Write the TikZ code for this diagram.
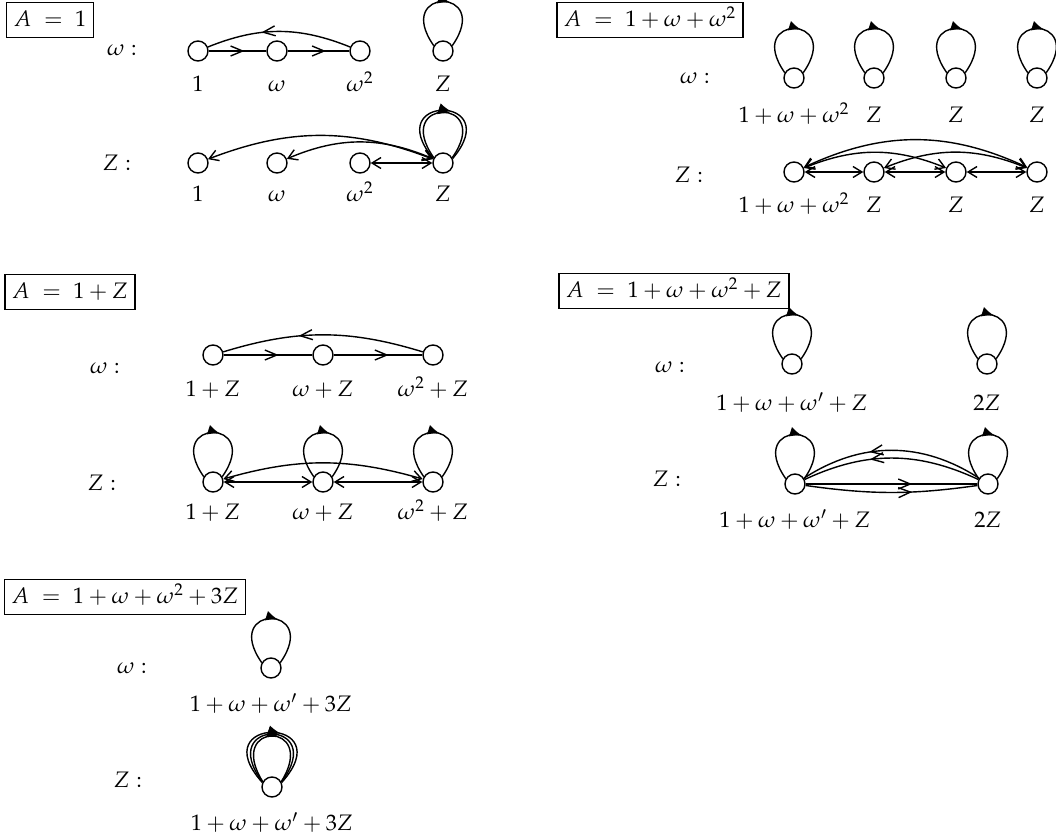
\documentclass[tikz,border=0pt]{standalone}
\usepackage{mathpazo}
\usepackage{tikz}
\usetikzlibrary{arrows.meta, decorations.markings}
\tikzstyle{vtx} = [circle, draw, minimum size=10pt, inner sep=0pt]
\tikzset{lbl/.style={yshift=-#1}}
\tikzstyle{ttl} = [draw, inner xsep=3.5pt, inner ysep=2.5pt, text height=9.5pt, text depth=3pt]
\tikzstyle{fwd} = [postaction={decorate}, decoration={markings, mark=at position 0.62 with {\arrow{Straight Barb[length=6pt,width=5pt]}}}]
\tikzstyle{loopy} = [postaction={decorate}, decoration={markings, mark=at position 0.56 with {\arrow{Latex[length=6pt,width=5pt]}}}]
\tikzstyle{every label} = [inner sep=1pt, text height=8.5pt, text depth=2.5pt]

\begin{document}
\begin{tikzpicture}[x=0.5pt, y=-0.5pt, line width=0.7pt, >={Straight Barb[length=4.5pt,width=5.5pt]}, font=\fontsize{11.2}{14}\selectfont]
    \useasboundingbox (0,0) rectangle (1056,835);

    % A = 1
    \node[ttl] (t1) at (50,20) {$A \;=\; 1$};
    \node (p1w) at (122,50) {$\omega:$};
    \node[vtx, label={[lbl=5pt]below:$1$}] (p1w1) at (198,51) {};
    \node[vtx, label={[lbl=5pt]below:$\omega$}] (p1w2) at (277,51) {};
    \node[vtx, label={[lbl=5pt]below:$\omega^2$}] (p1w3) at (360,51) {};
    \node[vtx, label={[lbl=5pt]below:$Z$}] (p1w4) at (443,51) {};
    \draw[fwd] (p1w1) -- (p1w2);
    \draw[fwd] (p1w2) -- (p1w3);
    \draw[fwd] (p1w3) to[bend right=22] (p1w1);
    \draw[loopy] (p1w4.150) .. controls +(125:36pt) and +(55:36pt) .. (p1w4.30);

    \node (p1z) at (117,163) {$Z:$};
    \node[vtx, label={[lbl=4pt]below:$1$}] (p1z1) at (198,163) {};
    \node[vtx, label={[lbl=4pt]below:$\omega$}] (p1z2) at (277,163) {};
    \node[vtx, label={[lbl=4pt]below:$\omega^2$}] (p1z3) at (360,163) {};
    \node[vtx, label={[lbl=4pt]below:$Z$}] (p1z4) at (443,163) {};
    \draw[<->] (p1z4) to[bend right=21] (p1z1);
    \draw[<->] (p1z4) to[bend right=23] (p1z2);
    \draw[<->] (p1z3) -- (p1z4);
    \draw[loopy] (p1z4.150) .. controls +(125:37pt) and +(55:37pt) .. (p1z4.30);
    \draw[loopy] (p1z4.155) .. controls +(130:42pt) and +(50:42pt) .. (p1z4.25);

    % A = 1 + w + w^2
    \node[ttl] (t2) at (650,20) {$A \;=\; 1+\omega+\omega^2$};
    \node (p2w) at (695,78) {$\omega:$};
    \node[vtx, label={[lbl=7pt]below:$1+\omega+\omega^2$}] (p2w1) at (794,78) {};
    \node[vtx, label={[lbl=7pt]below:$Z$}] (p2w2) at (874,78) {};
    \node[vtx, label={[lbl=7pt]below:$Z$}] (p2w3) at (956,78) {};
    \node[vtx, label={[lbl=7pt]below:$Z$}] (p2w4) at (1037,78) {};
    \foreach \n in {p2w1,p2w2,p2w3,p2w4}
        \draw[loopy] (\n.150) .. controls +(125:36pt) and +(55:36pt) .. (\n.30);

    \node (p2z) at (689,175) {$Z:$};
    \node[vtx, label={[lbl=5pt]below:$1+\omega+\omega^2$}] (p2z1) at (794,172) {};
    \node[vtx, label={[lbl=5pt]below:$Z$}] (p2z2) at (874,172) {};
    \node[vtx, label={[lbl=5pt]below:$Z$}] (p2z3) at (956,172) {};
    \node[vtx, label={[lbl=5pt]below:$Z$}] (p2z4) at (1037,172) {};
    \draw[<->] (p2z1) -- (p2z2);
    \draw[<->] (p2z2) -- (p2z3);
    \draw[<->] (p2z3) -- (p2z4);
    \draw[<->] (p2z1) to[bend left=22] (p2z3);
    \draw[<->] (p2z2) to[bend left=22] (p2z4);
    \draw[<->] (p2z1) to[bend left=25] (p2z4);

    % A = 1 + Z
    \node[ttl] (t3) at (70,292) {$A \;=\; 1+Z$};
    \node (p3w) at (105,368) {$\omega:$};
    \node[vtx, label={[lbl=5.5pt]below:$1+Z$}] (p3w1) at (213,355) {};
    \node[vtx, label={[lbl=5.5pt]below:$\omega+Z$}] (p3w2) at (323,355) {};
    \node[vtx, label={[lbl=5.5pt]below:$\omega^2+Z$}] (p3w3) at (433,355) {};
    \draw[fwd] (p3w1) -- (p3w2);
    \draw[fwd] (p3w2) -- (p3w3);
    \draw[fwd] (p3w3) to[bend right=17] (p3w1);

    \node (p3z) at (102,483) {$Z:$};
    \node[vtx, label={[lbl=3.5pt]below:$1+Z$}] (p3z1) at (213,482) {};
    \node[vtx, label={[lbl=3.5pt]below:$\omega+Z$}] (p3z2) at (323,482) {};
    \node[vtx, label={[lbl=3.5pt]below:$\omega^2+Z$}] (p3z3) at (433,482) {};
    \foreach \n in {p3z1,p3z2,p3z3}
        \draw[loopy] (\n.150) .. controls +(125:36pt) and +(55:36pt) .. (\n.30);
    \draw[<->] (p3z1) -- (p3z2);
    \draw[<->] (p3z2) -- (p3z3);
    \draw[<->] (p3z1) to[bend left=16] (p3z3);

    % A = 1 + w + w^2 + Z
    \node[ttl] (t4) at (674,291) {$A \;=\; 1+\omega+\omega^2+Z$};
    \node (p4w) at (670,367) {$\omega:$};
    \node[vtx, label={[lbl=8pt]below:$1+\omega+\omega'+Z$}] (p4w1) at (792,364) {};
    \node[vtx, label={[lbl=8pt]below:$2Z$}] (p4w2) at (987,364) {};
    \foreach \n in {p4w1,p4w2}
        \draw[loopy] (\n.150) .. controls +(125:36pt) and +(55:36pt) .. (\n.30);

    \node (p4z) at (667,479) {$Z:$};
    \node[vtx, label={[lbl=6.5pt]below:$1+\omega+\omega'+Z$}] (p4z1) at (795,484) {};
    \node[vtx, label={[lbl=6.5pt]below:$2Z$}] (p4z2) at (988,484) {};
    \foreach \n in {p4z1,p4z2}
        \draw[loopy] (\n.150) .. controls +(125:36pt) and +(55:36pt) .. (\n.30);
    \draw[fwd] (p4z2) to[bend right=33] (p4z1);
    \draw[fwd] (p4z2) to[bend right=25] (p4z1);
    \draw[fwd] (p4z1) -- (p4z2);
    \draw[fwd] (p4z1) to[bend right=8] (p4z2);

    % A = 1 + w + w^2 + 3Z
    \node[ttl] (t5) at (125,597) {$A \;=\; 1+\omega+\omega^2+3Z$};
    \node (p5w) at (132,668) {$\omega:$};
    \node[vtx, label={[lbl=6.5pt]below:$1+\omega+\omega'+3Z$}] (p5w1) at (271,668) {};
    \draw[loopy] (p5w1.150) .. controls +(125:36pt) and +(55:36pt) .. (p5w1.30);

    \node (p5z) at (128,780) {$Z:$};
    \node[vtx, label={[lbl=6.5pt]below:$1+\omega+\omega'+3Z$}] (p5z1) at (272,787) {};
    \draw[loopy] (p5z1.150) .. controls +(122:36pt) and +(58:36pt) .. (p5z1.30);
    \draw[loopy] (p5z1.152) .. controls +(127:40pt) and +(53:40pt) .. (p5z1.28);
    \draw[loopy] (p5z1.155) .. controls +(132:45pt) and +(48:45pt) .. (p5z1.25);
\end{tikzpicture}
\end{document}
